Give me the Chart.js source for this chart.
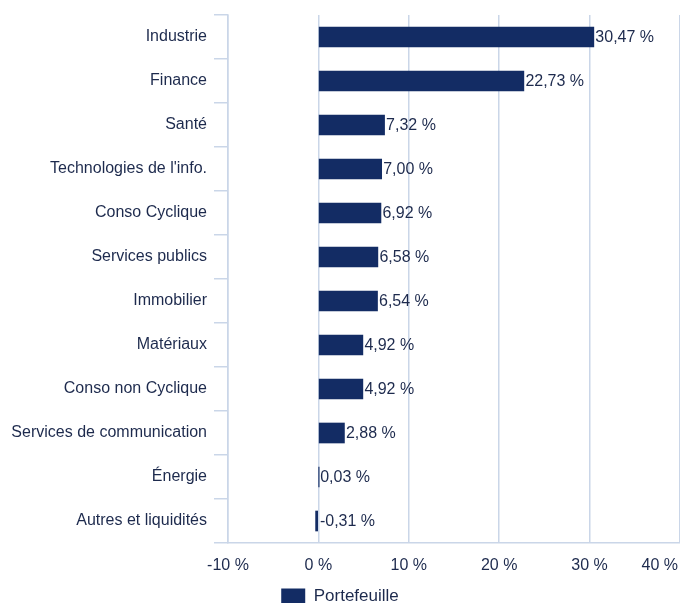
<!DOCTYPE html>
<html lang="fr">
  <head>
    <meta charset="UTF-8" />
    <title>Répartition sectorielle</title>
    <style>
      * {
        margin: 0;
        padding: 0;
        box-sizing: border-box;
      }
      body {
        background: #ffffff;
      }
      .chartBox {
        width: 680px;
        height: 603px;
      }
    </style>
  </head>
  <body>
    <div class="chartBox">
      <canvas id="myChart" width="680" height="603"></canvas>
    </div>

    <script src="https://cdn.jsdelivr.net/npm/chart.js"></script>
    <script>
      const sectors = [
        "Industrie",
        "Finance",
        "Santé",
        "Technologies de l'info.",
        "Conso Cyclique",
        "Services publics",
        "Immobilier",
        "Matériaux",
        "Conso non Cyclique",
        "Services de communication",
        "Énergie",
        "Autres et liquidités",
      ];
      const portfolio = [30.47, 22.73, 7.32, 7.0, 6.92, 6.58, 6.54, 4.92, 4.92, 2.88, 0.03, -0.31];
      const xTicks = [-10, 0, 10, 20, 30, 40];

      const navy = "#132c64";
      const textColor = "#1d2a4d";
      const gridColor = "#cad6e8";

      Chart.defaults.font.family = "'Liberation Sans', Arial, sans-serif";
      Chart.defaults.font.size = 16;
      Chart.defaults.color = textColor;

      const fmt = (v) => v.toFixed(2).replace(".", ",") + " %";

      // labels at the end of each bar
      const barLabels = {
        id: "barLabels",
        afterDatasetsDraw(chart) {
          const { ctx } = chart;
          const xs = chart.scales.x;
          const meta = chart.getDatasetMeta(0);
          ctx.save();
          ctx.font = "16px 'Liberation Sans', Arial, sans-serif";
          ctx.fillStyle = textColor;
          ctx.textAlign = "left";
          ctx.textBaseline = "middle";
          meta.data.forEach((bar, i) => {
            const v = portfolio[i];
            const x = xs.getPixelForValue(Math.max(v, 0)) + 1.5;
            ctx.fillText(fmt(v), x, bar.y + 1);
          });
          ctx.restore();
        },
      };

      // x tick labels, last one kept inside the canvas
      const xLabels = {
        id: "xLabels",
        afterDraw(chart) {
          const { ctx } = chart;
          const xs = chart.scales.x;
          ctx.save();
          ctx.font = "16px 'Liberation Sans', Arial, sans-serif";
          ctx.fillStyle = textColor;
          ctx.textBaseline = "alphabetic";
          ctx.textAlign = "left";
          xTicks.forEach((t) => {
            const label = t + " %";
            const w = ctx.measureText(label).width;
            let x = xs.getPixelForValue(t) - w / 2;
            if (x + w > chart.width - 2) x = chart.width - 2 - w;
            ctx.fillText(label, x, 570);
          });
          ctx.restore();
        },
      };

      const config = {
        type: "bar",
        data: {
          labels: sectors,
          datasets: [
            {
              label: "Portefeuille",
              data: portfolio,
              backgroundColor: navy,
              borderWidth: 0,
              barThickness: 20,
            },
          ],
        },
        options: {
          indexAxis: "y",
          responsive: false,
          animation: false,
          layout: {
            padding: { top: 15, right: 0, left: 0, bottom: -12 },
          },
          scales: {
            x: {
              min: -10,
              max: 40,
              afterBuildTicks: (scale) => {
                scale.ticks = xTicks.map((v) => ({ value: v }));
              },
              afterFit: (scale) => {
                scale.height = 45;
                scale.paddingLeft = 0;
                scale.paddingRight = 0;
              },
              ticks: { display: false },
              grid: {
                color: gridColor,
                lineWidth: 1.5,
                drawTicks: false,
              },
              border: { color: gridColor, width: 1.5 },
            },
            y: {
              afterFit: (scale) => {
                scale.width = 228;
                scale.paddingTop = 0;
                scale.paddingBottom = 0;
              },
              ticks: {
                color: textColor,
                padding: 7,
                font: { size: 16 },
              },
              grid: {
                offset: true,
                drawOnChartArea: false,
                tickLength: 14,
                color: gridColor,
                lineWidth: 1.5,
              },
              border: { color: gridColor, width: 1.5 },
            },
          },
          plugins: {
            legend: {
              position: "bottom",
              labels: {
                boxWidth: 24,
                boxHeight: 16,
                padding: 0,
                color: textColor,
                font: { size: 17 },
              },
            },
            tooltip: { enabled: false },
          },
        },
        plugins: [barLabels, xLabels],
      };

      const myChart = new Chart(document.getElementById("myChart"), config);
    </script>
  </body>
</html>
